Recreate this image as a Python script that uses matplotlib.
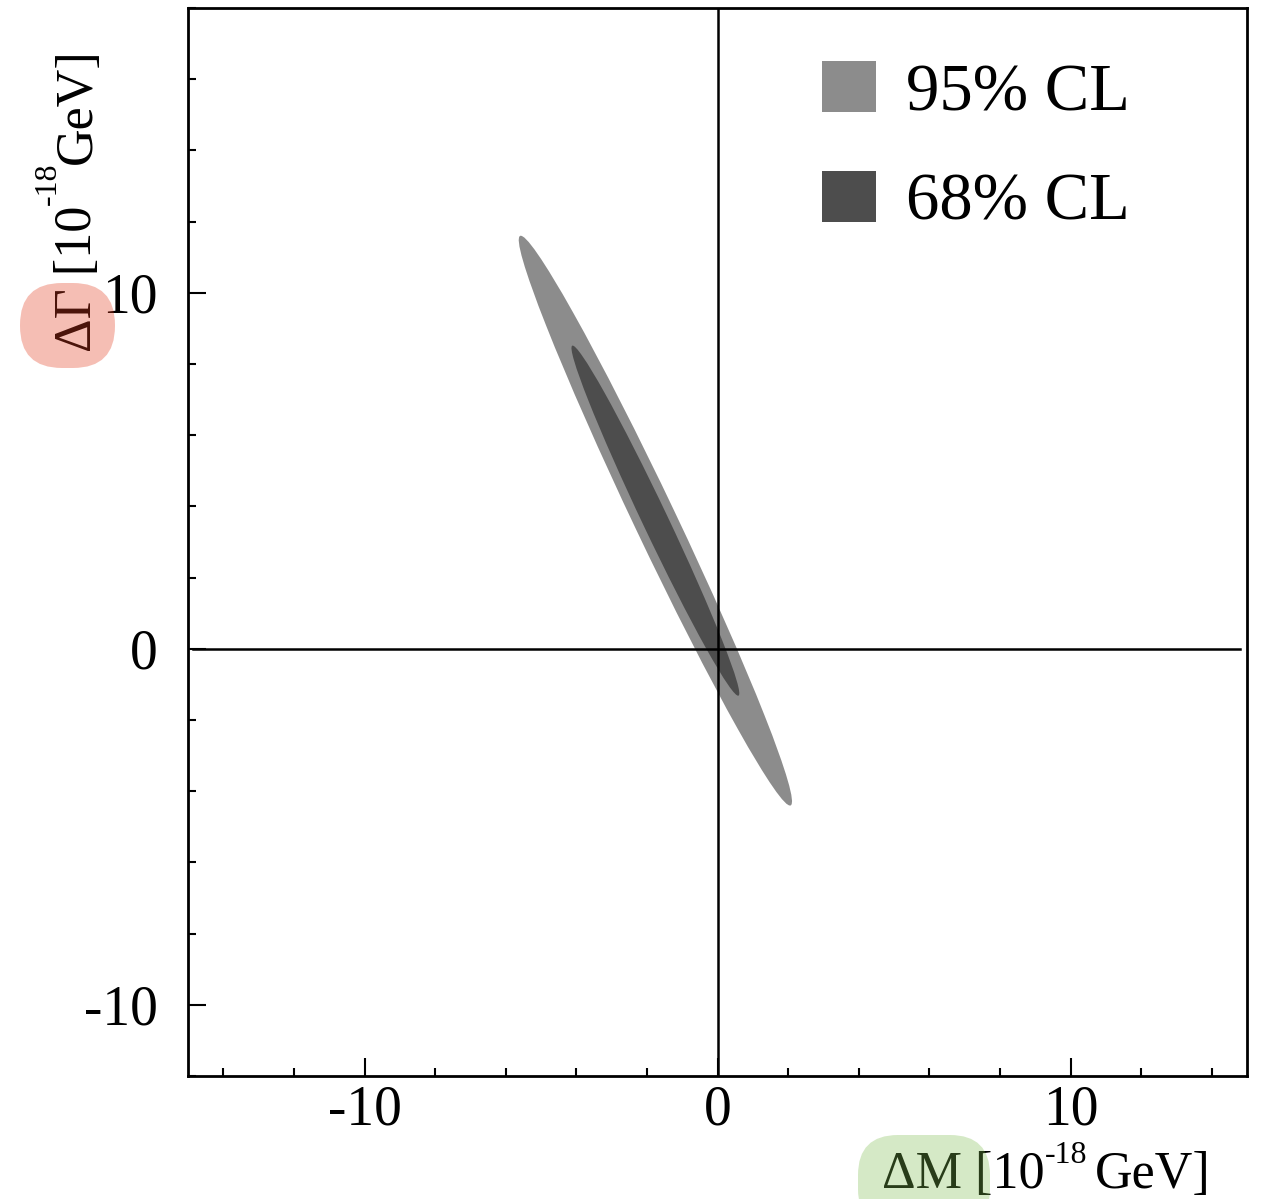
import numpy as np
import matplotlib
matplotlib.use('Agg')
from matplotlib import pyplot as plt
from matplotlib.patches import Ellipse, FancyBboxPatch
from matplotlib.ticker import MultipleLocator, FuncFormatter

plt.rcParams['font.family'] = ['Liberation Serif', 'DejaVu Serif']

# contour ellipses (data units, 1e-18 GeV)
center = (-1.76, 3.60)
angle_deg = -64.4
cl_labels = ['95% CL', '68% CL']
semi_major = [8.87, 5.45]
semi_minor = [0.60, 0.36]
cl_colors = ['#8c8c8c', '#4d4d4d']

xlim = (-15, 15)
ylim = (-12, 18)

fig = plt.figure(figsize=(12.61, 11.99), dpi=100)
ax = fig.add_axes([0.1491, 0.1026, 0.8398, 0.8907])

for lab, a, b, col in zip(cl_labels, semi_major, semi_minor, cl_colors):
    e = Ellipse(center, 2 * a, 2 * b, angle=angle_deg, facecolor=col,
                edgecolor='none', label=lab, zorder=2)
    ax.add_patch(e)

ax.axhline(0, xmin=0.005, xmax=0.993, color='black', lw=1.8, zorder=3)
ax.axvline(0, color='black', lw=1.8, zorder=3)

ax.set_xlim(*xlim)
ax.set_ylim(*ylim)

hyphen_fmt = FuncFormatter(lambda v, p: '%d' % v)
ax.xaxis.set_major_locator(MultipleLocator(10))
ax.xaxis.set_minor_locator(MultipleLocator(2))
ax.yaxis.set_major_locator(MultipleLocator(10))
ax.yaxis.set_minor_locator(MultipleLocator(2))
ax.xaxis.set_major_formatter(hyphen_fmt)
ax.yaxis.set_major_formatter(hyphen_fmt)
ax.tick_params(which='both', direction='in', top=False, right=False, width=1.5,
               labelsize=40)
ax.tick_params(axis='x', which='major', pad=6)
ax.tick_params(axis='y', which='major', pad=22)
ax.tick_params(which='major', length=13)
ax.tick_params(which='minor', length=6)
for s in ax.spines.values():
    s.set_linewidth(2)

# x label, built in pieces so the superscript sits like ROOT's
fs, fs_sup = 37.5, 23
t1 = ax.text(0.6553, -0.1152, '\u0394M [10', transform=ax.transAxes,
             ha='left', va='bottom', fontsize=fs, clip_on=False)
t3 = ax.annotate('-18', xy=(1, 0), xycoords=t1, xytext=(0.5, 21), textcoords='offset points',
                 ha='left', va='bottom', fontsize=fs_sup)
t4 = ax.annotate('GeV]', xy=(1, 0), xycoords=(t3, t1), xytext=(5, 0), textcoords='offset points',
                 ha='left', va='bottom', fontsize=fs)

# y label, rotated
y1 = ax.text(-0.0812, 0.678, '\u0394\u0393 [10', transform=ax.transAxes, rotation=90,
             ha='right', va='bottom', fontsize=fs, clip_on=False)
y2 = ax.annotate('-18', xy=(1, 1), xycoords=y1, xytext=(-28, 0.5), textcoords='offset points',
                 rotation=90, ha='right', va='bottom', fontsize=fs_sup)
y3 = ax.annotate('GeV]', xy=(1, 1), xycoords=(y1, y2), xytext=(0, -1.5), textcoords='offset points',
                 rotation=90, ha='right', va='bottom', fontsize=fs)

leg = ax.legend(loc='upper left', bbox_to_anchor=(0.599, 0.95), frameon=False,
                fontsize=48, handlelength=0.8, handleheight=0.8,
                handletextpad=0.45, labelspacing=0.7, borderpad=0, borderaxespad=0)

# highlight marks over the axis symbols
pink = FancyBboxPatch((0.20, 8.31), 0.95, 0.85, boxstyle='round,pad=0,rounding_size=0.42',
                      transform=fig.dpi_scale_trans, facecolor=(227/255, 60/255, 30/255),
                      edgecolor='none', alpha=0.33, zorder=10)
green = FancyBboxPatch((8.58, -0.3), 1.32, 0.94, boxstyle='round,pad=0,rounding_size=0.40',
                       transform=fig.dpi_scale_trans, facecolor=(125/255, 188/255, 78/255),
                       edgecolor='none', alpha=0.32, zorder=10)
fig.add_artist(pink)
fig.add_artist(green)

fig.savefig('out.png', dpi=100)
